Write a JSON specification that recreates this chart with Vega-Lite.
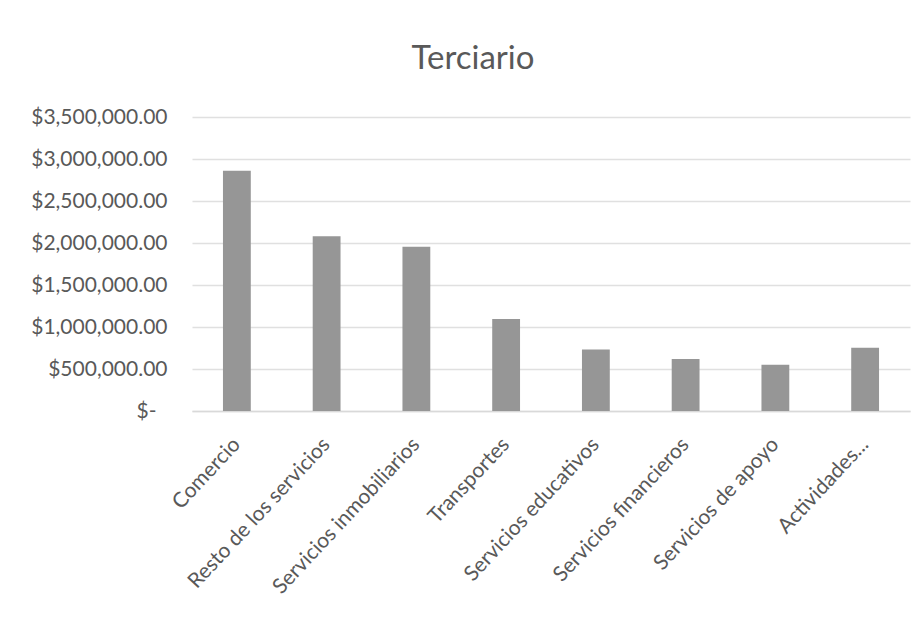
{
  "$schema": "https://vega.github.io/schema/vega-lite/v6.json",
  "width": 718,
  "height": 294,
  "autosize": {"type": "none"},
  "padding": {"left": 192, "top": 117, "right": 13, "bottom": 219},
  "background": "white",
  "title": {
    "text": "Terciario",
    "font": "Lato",
    "fontSize": 33,
    "fontWeight": "normal",
    "color": "#595959",
    "anchor": "middle",
    "baseline": "alphabetic",
    "dx": -78,
    "offset": 4
  },
  "data": {
    "values": [
      {"sector": "Comercio", "valor": 2860000},
      {"sector": "Resto de los servicios", "valor": 2080000},
      {"sector": "Servicios inmobiliarios", "valor": 1955000},
      {"sector": "Transportes", "valor": 1095000},
      {"sector": "Servicios educativos", "valor": 733000},
      {"sector": "Servicios financieros", "valor": 618000},
      {"sector": "Servicios de apoyo", "valor": 551000},
      {"sector": "Actividades...", "valor": 753000}
    ]
  },
  "mark": {"type": "bar", "color": "#969696"},
  "encoding": {
    "x": {
      "field": "sector",
      "type": "nominal",
      "sort": null,
      "title": null,
      "scale": {"paddingInner": 0.69, "paddingOuter": 0.345},
      "axis": {
        "labelAngle": -47,
        "labelAlign": "right",
        "labelBaseline": "middle",
        "labelPadding": 30,
        "ticks": false,
        "domainColor": "#d9d9d9",
        "domainWidth": 1.5,
        "labelLimit": 400
      }
    },
    "y": {
      "field": "valor",
      "type": "quantitative",
      "title": null,
      "scale": {"domain": [0, 3500000], "nice": false},
      "axis": {
        "values": [0, 500000, 1000000, 1500000, 2000000, 2500000, 3000000, 3500000],
        "labelExpr": "datum.value == 0 ? '$-' : format(datum.value, '$,.2f')",
        "labelPadding": {"condition": {"test": "datum.value == 0", "value": 36}, "value": 25},
        "ticks": false,
        "domain": false,
        "gridColor": "#e0e0e0",
        "gridWidth": 1.5
      }
    }
  },
  "config": {
    "view": {"stroke": null},
    "axis": {
      "labelFont": "Lato",
      "labelFontSize": 21,
      "labelColor": "#595959"
    }
  }
}
